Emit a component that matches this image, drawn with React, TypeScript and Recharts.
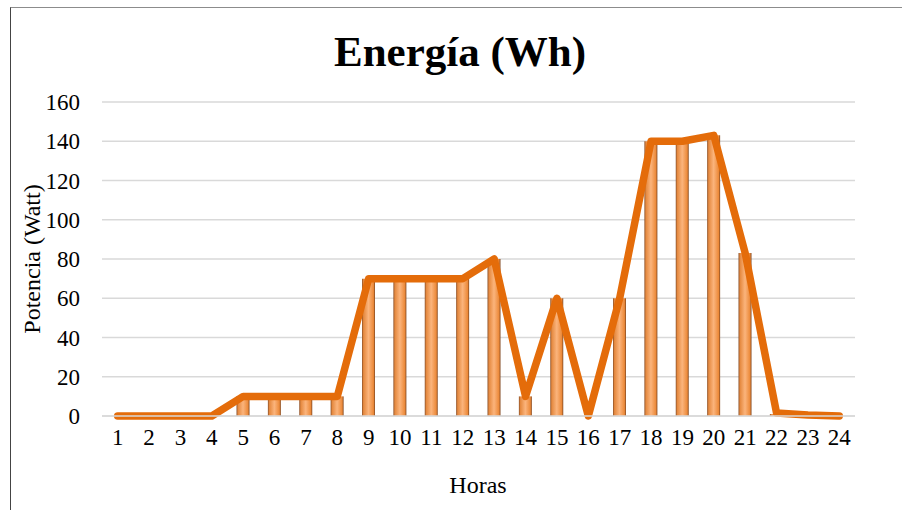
import { Bar, CartesianGrid, ComposedChart, Line, XAxis, YAxis } from "recharts"

// Valores
const hours = ['1', '2', '3', '4', '5', '6', '7', '8', '9', '10', '11', '12', '13', '14', '15', '16', '17', '18', '19', '20', '21', '22', '23', '24']
const barValues = [0, 0, 0, 0, 10, 10, 10, 10, 70, 70, 70, 70, 80, 10, 60, 0, 60, 140, 140, 143, 83, 1, 0, 0]
const lineValues = [0, 0, 0, 0, 10, 10, 10, 10, 70, 70, 70, 70, 80, 10, 60, 0, 60, 140, 140, 143, 83, 1.5, 0.5, 0]
const yTicks = [0, 20, 40, 60, 80, 100, 120, 140, 160]

const data = hours.map((h, i) => ({ hora: h, barra: barValues[i], linea: lineValues[i] }))

const font = '"Liberation Serif", "DejaVu Serif", serif'

export default function App() {
  return (
    <div style={{ position: 'absolute', left: 0, top: 0, width: 902, height: 510, background: '#fff', fontFamily: font }}>
      <div style={{ position: 'absolute', left: 10, top: 7, width: 892, height: 503, borderTop: '1.5px solid #8c8c8c', borderLeft: '1.5px solid #444' }} />
      <div style={{ position: 'absolute', left: 0, width: 920, top: 27, textAlign: 'center', fontSize: 43, fontWeight: 'bold', color: '#000' }}>
        Energía (Wh)
      </div>
      <ComposedChart width={902} height={510} data={data} margin={{ top: 102, right: 47, bottom: 64, left: 42 }} barSize={13}>
        <defs>
          <linearGradient id="cil" x1="0" y1="0" x2="1" y2="0">
            <stop offset="0%" stopColor="#8a4f28" />
            <stop offset="12%" stopColor="#e5893f" />
            <stop offset="50%" stopColor="#fbb47c" />
            <stop offset="88%" stopColor="#ec8a3a" />
            <stop offset="100%" stopColor="#80461f" />
          </linearGradient>
        </defs>
        <CartesianGrid vertical={false} stroke="#d9d9d9" strokeWidth={1.5} />
        <XAxis
          dataKey="hora"
          height={30}
          tickLine={false}
          tickSize={0}
          tickMargin={13}
          stroke="#d9d9d9"
          strokeWidth={1.5}
          interval={0}
          tick={{ fill: '#000', fontSize: 23, fontFamily: font }}
        />
        <YAxis
          width={60}
          domain={[0, 160]}
          ticks={yTicks}
          axisLine={false}
          tickLine={false}
          tickSize={0}
          tickMargin={22}
          tick={{ fill: '#000', fontSize: 23, fontFamily: font }}
        />
        <Bar dataKey="barra" fill="url(#cil)" isAnimationActive={false} />
        <Line
          type="linear"
          dataKey="linea"
          stroke="#e46c0a"
          strokeWidth={7.5}
          strokeLinejoin="round"
          strokeLinecap="round"
          dot={false}
          activeDot={false}
          isAnimationActive={false}
        />
      </ComposedChart>
      <div style={{ position: 'absolute', left: 32, top: 259, transform: 'translate(-50%, -50%) rotate(-90deg)', fontSize: 24, whiteSpace: 'nowrap', color: '#000' }}>
        Potencia (Watt)
      </div>
      <div style={{ position: 'absolute', left: 478, top: 485, transform: 'translate(-50%, -50%)', fontSize: 24, color: '#000' }}>
        Horas
      </div>
    </div>
  )
}
